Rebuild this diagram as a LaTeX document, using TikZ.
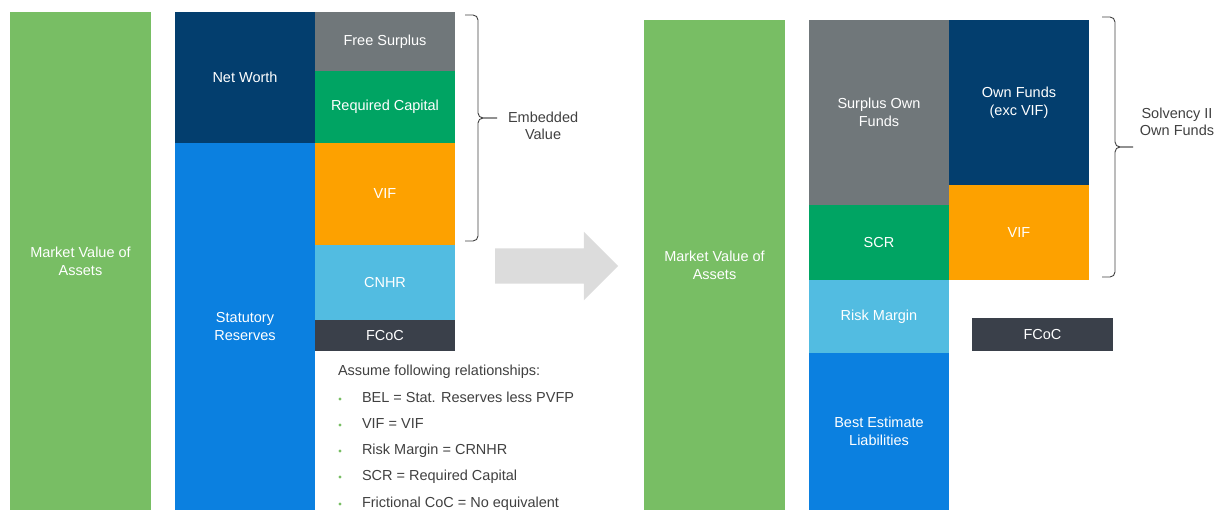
\documentclass[tikz,border=0pt]{standalone}
\usepackage{fontspec}
\setmainfont{Liberation Sans}
\usetikzlibrary{positioning, shapes.arrows}

\definecolor{mvgreen}{HTML}{78BE64}
\definecolor{navy}{HTML}{033E6E}
\definecolor{resblue}{HTML}{0B80E0}
\definecolor{slate}{HTML}{70777A}
\definecolor{capgreen}{HTML}{00A463}
\definecolor{viforange}{HTML}{FDA100}
\definecolor{skyblue}{HTML}{52BCE1}
\definecolor{charcoal}{HTML}{3A404A}
\definecolor{arrgray}{HTML}{DCDCDC}
\definecolor{notegray}{HTML}{404040}

\begin{document}
\begin{tikzpicture}[x=1pt, y=-1pt,
    blk/.style={minimum width=140pt, inner sep=0pt, outer sep=0pt, text=white, align=center, font=\fontsize{14.5}{18}\selectfont},
    note/.style={inner sep=0pt, outer sep=0pt, text=notegray, text height=10.5pt, text depth=3pt, font=\fontsize{14.5}{17}\selectfont},
    bracket/.style={draw=notegray, line width=0.9pt, rounded corners=5pt}
]
\useasboundingbox (0,0) rectangle (1215,510);

% Statutory balance sheet - assets, then liabilities column by column
\node[blk, fill=mvgreen, minimum width=141pt, minimum height=498pt, anchor=north west] (mva1) at (10,12) {Market Value of\\Assets};
\node[blk, fill=navy, minimum height=131pt, below right=0pt and 24pt of mva1.north east] (netw) {Net Worth};
\node[blk, fill=resblue, minimum height=367pt, below=0pt of netw] (stat) {Statutory\\Reserves};
\node[blk, fill=slate, minimum height=59pt, below right=0pt and 0pt of netw.north east] (fs) {Free Surplus};
\node[blk, fill=capgreen, minimum height=72pt, below=0pt of fs] (rc) {Required Capital};
\node[blk, fill=viforange, minimum height=102pt, below=0pt of rc] (vif1) {VIF};
\node[blk, fill=skyblue, minimum height=75pt, below=0pt of vif1] (cnhr) {CNHR};
\node[blk, fill=charcoal, minimum height=31pt, below=0pt of cnhr] (fcoc1) {FCoC};

% Embedded value bracket
\draw[bracket] (465,15) -- (478,15) -- (478,118) -- (497,118);
\draw[bracket] (465,241) -- (478,241) -- (478,118) -- (497,118);
\node[note, align=center, anchor=west, text height=, text depth=] (evlbl) at (508,126) {Embedded\\Value};

% Relationships
\node[note, anchor=west] (asm) at (338,372) {Assume following relationships:};
\node[note, anchor=west] (r1) at (362,399) {BEL = Stat. Reserves less PVFP};
\node[note, anchor=west] (r2) at (362,425) {VIF = VIF};
\node[note, anchor=west] (r3) at (362,451) {Risk Margin = CRNHR};
\node[note, anchor=west] (r4) at (362,477) {SCR = Required Capital};
\node[note, anchor=west] (r5) at (362,504) {Frictional CoC = No equivalent};
\fill[mvgreen] ([xshift=-22pt]r1.west) circle (1.6pt);
\fill[mvgreen] ([xshift=-22pt]r2.west) circle (1.6pt);
\fill[mvgreen] ([xshift=-22pt]r3.west) circle (1.6pt);
\fill[mvgreen] ([xshift=-22pt]r4.west) circle (1.6pt);
\fill[mvgreen] ([xshift=-22pt]r5.west) circle (1.6pt);

% Transition arrow
\node[single arrow, fill=arrgray, minimum height=123pt, minimum width=68pt, single arrow head extend=16.5pt, inner xsep=0pt, inner ysep=17.5pt, outer sep=0pt, anchor=tail] (arr) at (495,266) {};

% Solvency II balance sheet
\node[blk, fill=mvgreen, minimum width=141pt, minimum height=490pt, anchor=north west] (mva2) at (644,20) {Market Value of\\Assets};
\node[blk, fill=slate, minimum height=185pt, below right=0pt and 24pt of mva2.north east] (sof) {Surplus Own\\Funds};
\node[blk, fill=capgreen, minimum height=75pt, below=0pt of sof] (scr) {SCR};
\node[blk, fill=skyblue, minimum height=73pt, below=0pt of scr] (rm) {Risk Margin};
\node[blk, fill=resblue, minimum height=157pt, below=0pt of rm] (bel) {Best Estimate\\Liabilities};
\node[blk, fill=navy, minimum height=165pt, below right=0pt and 0pt of sof.north east] (ofx) {Own Funds\\(exc VIF)};
\node[blk, fill=viforange, minimum height=95pt, below=0pt of ofx] (vif2) {VIF};
\node[blk, fill=charcoal, minimum width=141pt, minimum height=33pt, below right=38pt and 23pt of vif2.south west] (fcoc2) {FCoC};

% Own funds bracket
\draw[bracket] (1102,17) -- (1115,17) -- (1115,147) -- (1133,147);
\draw[bracket] (1102,277) -- (1115,277) -- (1115,147) -- (1133,147);
\node[note, align=center, text height=, text depth=] (sollbl) at (1177,122) {Solvency II\\Own Funds};
\end{tikzpicture}
\end{document}
